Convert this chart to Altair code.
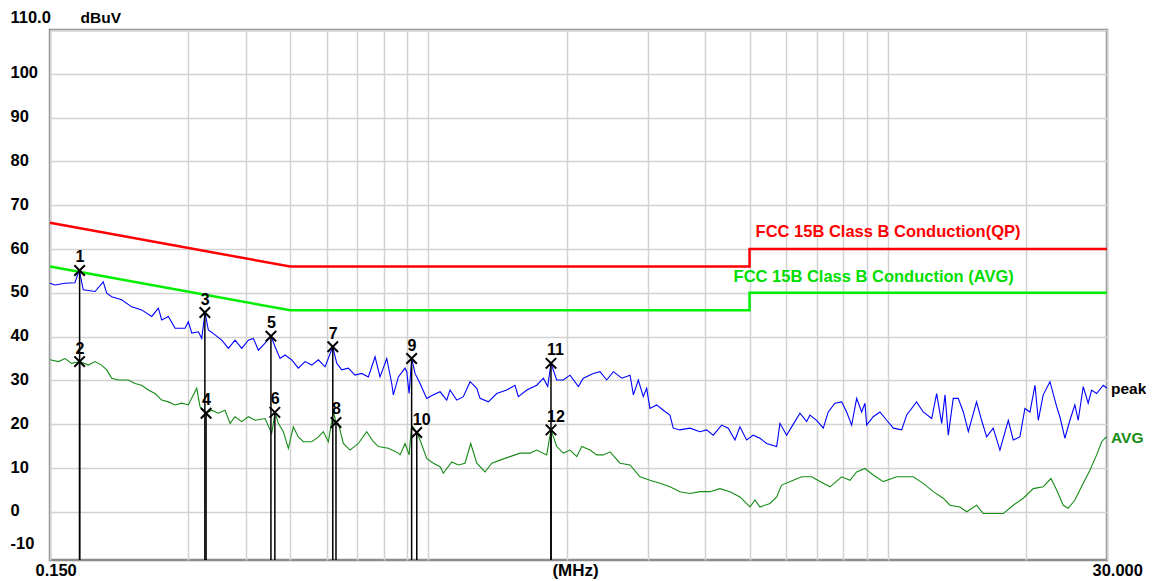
import altair as alt
import pandas as pd

# ---------------- data ----------------
peak_freq = [0.150, 0.1538, 0.1617, 0.1700, 0.1728, 0.1738, 0.1772, 0.1880, 0.1959, 0.1993,
             0.2044, 0.2149, 0.2259, 0.2375, 0.2498, 0.2582, 0.2626, 0.2715, 0.2808, 0.2952,
             0.3001, 0.3053, 0.3156, 0.3209, 0.3263, 0.3317, 0.3431, 0.3548, 0.3668, 0.3793,
             0.3922, 0.4054, 0.4157, 0.4263, 0.4408, 0.4543, 0.4635, 0.4752, 0.4873, 0.5038,
             0.5208, 0.5386, 0.5570, 0.5758, 0.5955, 0.6189, 0.6314, 0.6474, 0.6692, 0.6920,
             0.7156, 0.7398, 0.7651, 0.7845, 0.8113, 0.8318, 0.8386, 0.8599, 0.8892, 0.8968,
             0.9075, 0.9194, 0.9349, 0.9586, 0.9913, 1.025, 1.060, 1.096, 1.114, 1.152,
             1.191, 1.232, 1.274, 1.295, 1.350, 1.408, 1.480, 1.543, 1.569, 1.637,
             1.721, 1.779, 1.818, 1.848, 1.902, 1.966, 2.033, 2.120, 2.173, 2.285,
             2.363, 2.444, 2.526, 2.635, 2.747, 2.793, 2.863, 2.935, 2.985, 3.035,
             3.139, 3.244, 3.355, 3.411, 3.527, 3.709, 3.899, 4.032, 4.168, 4.348,
             4.494, 4.647, 4.765, 4.927, 5.094, 5.268, 5.448, 5.728, 5.823, 6.022,
             6.175, 6.437, 6.657, 6.768, 6.999, 7.235, 7.418, 7.672, 7.934, 8.135,
             8.341, 8.553, 8.770, 8.917, 8.993, 9.296, 9.613, 9.941, 10.28, 10.72,
             10.99, 11.55, 11.94, 12.46, 12.77, 13.10, 13.32, 13.54, 13.88, 14.23,
             14.60, 14.97, 15.60, 16.00, 16.41, 16.96, 17.54, 18.29, 18.75, 19.39,
             19.88, 20.39, 20.91, 21.26, 21.79, 22.54, 23.31, 23.69, 24.29, 24.91,
             25.54, 25.97, 26.63, 27.30, 27.77, 28.48, 29.44, 30.00]
peak_dbuv = [52.2, 51.8, 52.2, 52.3, 54.5, 55.1, 50.7, 50.3, 52.5, 49.9,
             49.1, 48.4, 46.8, 46.1, 44.6, 46.5, 43.8, 44.6, 41.9, 41.9,
             43.4, 40.8, 41.1, 39.6, 45.5, 41.5, 40.4, 39.2, 37.3, 39.2,
             37.3, 39.2, 39.6, 36.9, 38.5, 40.1, 37.7, 35.0, 35.8, 34.7,
             32.8, 34.3, 33.5, 34.7, 33.1, 37.7, 33.9, 32.4, 32.8, 31.2,
             31.6, 30.8, 35.4, 30.8, 35.0, 29.3, 26.7, 30.8, 32.8, 32.0,
             27.0, 35.0, 31.6, 29.3, 25.9, 26.7, 27.4, 25.5, 27.8, 25.5,
             26.3, 29.7, 28.2, 25.9, 25.1, 27.0, 27.8, 28.9, 26.3, 27.8,
             28.9, 30.5, 28.6, 33.9, 30.1, 30.1, 31.2, 28.6, 30.5, 31.6,
             32.0, 30.1, 32.0, 30.5, 31.2, 26.7, 30.1, 26.3, 28.2, 23.6,
             24.4, 23.2, 22.1, 19.1, 18.7, 19.1, 18.3, 18.7, 17.5, 19.8,
             19.1, 16.4, 19.4, 16.4, 17.5, 16.8, 15.6, 14.9, 20.2, 17.5,
             19.4, 22.5, 20.6, 22.1, 20.9, 19.1, 22.8, 24.8, 25.1, 22.8,
             19.8, 25.9, 22.8, 24.8, 19.8, 21.7, 22.8, 20.9, 19.1, 18.7,
             22.1, 25.1, 22.8, 21.3, 27.0, 20.2, 26.7, 17.5, 25.9, 25.9,
             22.8, 18.3, 25.1, 20.9, 17.1, 19.1, 14.1, 20.9, 16.4, 17.1,
             23.6, 22.8, 28.9, 20.9, 26.7, 29.7, 24.0, 21.7, 16.8, 20.9,
             24.4, 20.9, 28.6, 24.8, 27.8, 27.0, 28.9, 28.2]

avg_freq = [0.150, 0.1564, 0.1617, 0.1672, 0.1743, 0.1817, 0.1880, 0.1943, 0.1993, 0.2044,
            0.2113, 0.2222, 0.2297, 0.2375, 0.2455, 0.2540, 0.2626, 0.2715, 0.2808, 0.2903,
            0.3001, 0.3078, 0.3130, 0.3182, 0.3279, 0.3374, 0.3488, 0.3607, 0.3699, 0.3793,
            0.3922, 0.4054, 0.4193, 0.4408, 0.4558, 0.4635, 0.4712, 0.4831, 0.4954, 0.5079,
            0.5208, 0.5341, 0.5570, 0.5758, 0.5904, 0.6054, 0.6208, 0.6292, 0.6366, 0.6526,
            0.6749, 0.7036, 0.7338, 0.7586, 0.7778, 0.8178, 0.8599, 0.8672, 0.8892, 0.9075,
            0.9194, 0.9428, 0.9586, 0.9913, 1.025, 1.060, 1.077, 1.124, 1.162, 1.201,
            1.236, 1.274, 1.328, 1.373, 1.432, 1.505, 1.583, 1.664, 1.721, 1.809,
            1.848, 1.902, 1.966, 2.033, 2.103, 2.156, 2.248, 2.324, 2.403, 2.485,
            2.612, 2.747, 2.887, 3.035, 3.191, 3.355, 3.527, 3.709, 3.899, 4.100,
            4.311, 4.532, 4.765, 5.010, 5.137, 5.268, 5.539, 5.728, 5.872, 6.225,
            6.492, 6.826, 7.116, 7.482, 7.934, 8.271, 8.553, 8.917, 9.296, 9.774,
            10.45, 11.36, 11.94, 12.56, 13.20, 13.65, 14.36, 14.85, 15.60, 16.14,
            16.96, 17.83, 18.75, 19.71, 20.73, 21.79, 22.65, 23.31, 24.09, 24.70,
            25.54, 26.63, 27.54, 28.48, 29.21, 29.70, 30.00]
avg_dbuv = [34.7, 34.3, 35.0, 33.9, 34.3, 33.5, 34.3, 33.5, 32.4, 30.5,
            30.1, 30.1, 29.3, 28.9, 27.8, 27.0, 25.5, 25.1, 24.4, 24.8,
            24.4, 26.7, 28.2, 24.0, 22.5, 23.2, 22.5, 23.2, 20.2, 21.7,
            20.6, 21.7, 20.9, 21.3, 17.9, 22.7, 20.2, 18.3, 14.5, 19.4,
            17.1, 16.0, 16.0, 17.1, 18.3, 16.0, 22.8, 20.4, 20.2, 15.6,
            14.1, 15.6, 18.3, 16.0, 14.9, 14.5, 13.4, 13.0, 15.6, 13.0,
            19.8, 18.1, 16.4, 12.2, 11.1, 10.3, 8.8, 11.4, 10.7, 11.1,
            15.6, 11.1, 9.1, 11.1, 11.8, 12.6, 13.4, 13.4, 14.1, 13.0,
            18.7, 14.9, 13.4, 14.1, 12.6, 14.9, 14.1, 13.0, 13.0, 13.7,
            11.1, 10.7, 8.0, 7.2, 6.5, 5.7, 4.6, 4.2, 4.6, 4.6,
            5.3, 4.6, 3.4, 1.1, 2.7, 1.1, 1.9, 3.4, 6.1, 7.2,
            8.0, 8.0, 6.9, 5.7, 8.0, 7.2, 9.1, 9.9, 8.4, 6.9,
            8.0, 8.0, 6.5, 4.6, 3.1, 1.5, 1.1, 0.0, 1.5, -0.4,
            -0.4, -0.4, 1.5, 3.1, 5.3, 5.7, 7.6, 5.0, 1.5, 0.8,
            2.7, 6.5, 9.5, 13.0, 16.0, 16.8, 17.1]

qp_limit_freq = [0.15, 0.5, 5.0, 5.0, 30.0]
qp_limit_dbuv = [66.0, 56.0, 56.0, 60.0, 60.0]
avg_limit_freq = [0.15, 0.5, 5.0, 5.0, 30.0]
avg_limit_dbuv = [56.0, 46.0, 46.0, 50.0, 50.0]

marker_no = [1, 2, 3, 4, 5, 6, 7, 8, 9, 10, 11, 12]
marker_freq = [0.174, 0.174, 0.326, 0.328, 0.454, 0.463, 0.619, 0.629, 0.919, 0.943, 1.848, 1.848]
marker_dbuv = [55.1, 34.3, 45.5, 22.5, 40.1, 22.7, 37.7, 20.4, 35.0, 18.1, 33.9, 18.7]

qp_label = "FCC 15B Class B Conduction(QP)"
avg_label = "FCC 15B Class B Conduction (AVG)"

x_grid_values = [0.15, 0.3, 0.4, 0.5, 0.6, 0.7, 0.8, 0.9, 1, 2, 3, 4, 5, 6, 7, 8, 9, 10, 20, 30]
y_grid_values = [-10, 0, 10, 20, 30, 40, 50, 60, 70, 80, 90, 100, 110]

# ---------------- tables ----------------
peak_df = pd.DataFrame({"freq": peak_freq, "dbuv": peak_dbuv, "i": range(len(peak_freq))})
avg_df = pd.DataFrame({"freq": avg_freq, "dbuv": avg_dbuv, "i": range(len(avg_freq))})
qp_df = pd.DataFrame({"freq": qp_limit_freq, "dbuv": qp_limit_dbuv, "i": range(5)})
avgl_df = pd.DataFrame({"freq": avg_limit_freq, "dbuv": avg_limit_dbuv, "i": range(5)})
mk_df = pd.DataFrame({"no": marker_no, "freq": marker_freq, "dbuv": marker_dbuv})
qp_lab_df = pd.DataFrame({"freq": [qp_limit_freq[3]], "dbuv": [qp_limit_dbuv[3]], "t": [qp_label]})
avg_lab_df = pd.DataFrame({"freq": [avg_limit_freq[3]], "dbuv": [avg_limit_dbuv[3]], "t": [avg_label]})
end_df = pd.DataFrame({
    "freq": [peak_freq[-1], avg_freq[-1]],
    "dbuv": [peak_dbuv[-1], avg_dbuv[-1]],
    "t": ["peak", "AVG"],
})

FONT = "Liberation Sans"
GRID = "#d2d2d2"
AVG_COLOR = "#168c16"

x_scale = alt.Scale(type="log", domain=[0.15, 30], nice=False)
y_scale = alt.Scale(domain=[-11, 110], nice=False, zero=False)

x_axis = alt.Axis(
    values=x_grid_values,
    labelExpr="datum.value == 0.15 ? '0.150' : (datum.value == 30 ? '30.000' : '')",
    labelFont=FONT, labelFontSize=16.5, labelFontWeight="bold", labelColor="black",
    labelAlign="left", labelOffset=-15, labelBaseline="middle", labelPadding=10,
    labelOverlap=False, labelFlush=False, labelBound=False,
    ticks=False, tickSize=0, domain=False,
    grid=True, gridColor=GRID, gridWidth=1.5,
    title="(MHz)", titleFont=FONT, titleFontSize=17, titleFontWeight="bold",
    titleColor="black", titleX=525, titleY=10, titleAlign="center", titleBaseline="middle",
)
y_axis = alt.Axis(
    values=y_grid_values,
    labelExpr="datum.value == 110 ? '110.0' : '' + datum.value",
    labelFont=FONT, labelFontSize=16.5, labelFontWeight="bold", labelColor="black",
    labelAlign="left", labelBaseline="middle", labelPadding=40,
    labelOffset={"condition": {"test": "datum.value == 110 || datum.value == -10", "value": -12.5}, "value": -1},
    labelOverlap=False, labelBound=False,
    ticks=False, tickSize=0, domain=False,
    grid=True, gridWidth=1.5,
    gridColor={"condition": {"test": "datum.value == -10", "value": "transparent"}, "value": GRID},
    title="dBuV", titleFont=FONT, titleFontSize=15.5, titleFontWeight="bold", titleColor="black",
    titleAngle=0, titleAlign="left", titleBaseline="middle", titleX=30, titleY=-12.5,
)

X = alt.X("freq:Q", scale=x_scale, axis=x_axis)
Y = alt.Y("dbuv:Q", scale=y_scale, axis=y_axis)
Xn = alt.X("freq:Q", scale=x_scale)
Yn = alt.Y("dbuv:Q", scale=y_scale)

qp_limit = alt.Chart(qp_df).mark_line(color="#ff0000", strokeWidth=2.5).encode(
    x=X, y=Y, order="i:Q")
avg_limit = alt.Chart(avgl_df).mark_line(color="#00ee00", strokeWidth=2.5).encode(
    x=Xn, y=Yn, order="i:Q")
peak_line = alt.Chart(peak_df).mark_line(color="#0000ff", strokeWidth=1.1).encode(
    x=Xn, y=Yn, order="i:Q")
avg_line = alt.Chart(avg_df).mark_line(color=AVG_COLOR, strokeWidth=1.1).encode(
    x=Xn, y=Yn, order="i:Q")
mk_rules = alt.Chart(mk_df).mark_rule(color="black", strokeWidth=1.5).encode(
    x=Xn, y=Yn, y2=alt.datum(-11))
mk_points = alt.Chart(mk_df).mark_point(
    shape="M-1,-1L1,1M-1,1L1,-1", size=110, color="black", strokeWidth=2, filled=False, opacity=1
).encode(x=Xn, y=Yn)
mk_text = alt.Chart(mk_df).mark_text(
    align="left", baseline="alphabetic", dx=-4, dy=-8, font=FONT, fontSize=16,
    fontWeight="bold", color="black"
).encode(x=Xn, y=Yn, text="no:N")
qp_text = alt.Chart(qp_lab_df).mark_text(
    align="left", baseline="middle", dx=6, dy=-17, font=FONT, fontSize=16.5,
    fontWeight="bold", color="#ff0000"
).encode(x=Xn, y=Yn, text="t:N")
avg_text = alt.Chart(avg_lab_df).mark_text(
    align="left", baseline="middle", dx=-16, dy=-16, font=FONT, fontSize=16.5,
    fontWeight="bold", color="#00dd00"
).encode(x=Xn, y=Yn, text="t:N")
end_text = alt.Chart(end_df).mark_text(
    align="left", baseline="middle", dx=4, dy=1, font=FONT, fontSize=15.5,
    fontWeight="bold"
).encode(
    x=Xn, y=Yn, text="t:N",
    color=alt.Color("t:N", scale=alt.Scale(domain=["peak", "AVG"], range=["black", AVG_COLOR]), legend=None),
)

chart = alt.layer(
    qp_limit, avg_limit, peak_line, avg_line, mk_rules, mk_points, mk_text,
    qp_text, avg_text, end_text
).properties(
    width=1057, height=530,
    autosize=alt.AutoSizeParams(type="none"),
    padding={"left": 42, "top": 22, "right": 39, "bottom": 20},
    background="white",
).configure_view(stroke="#8c8c8c", strokeWidth=2.5)

chart.save("out.html", embed_options={"renderer": "svg", "actions": False})
